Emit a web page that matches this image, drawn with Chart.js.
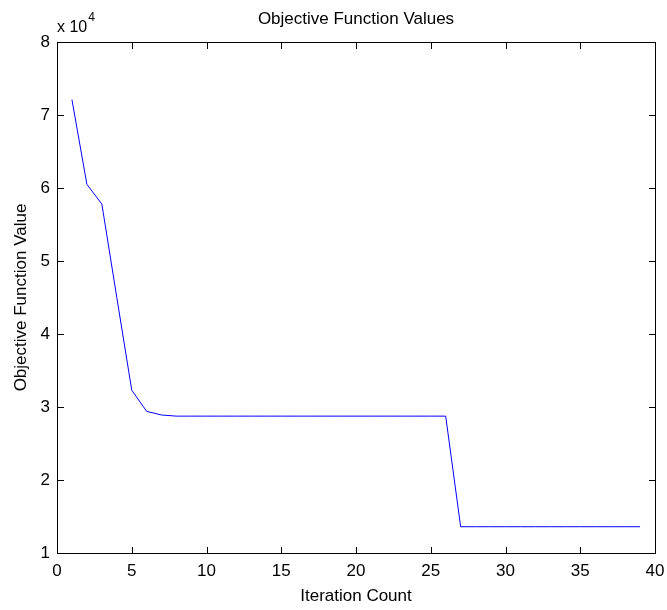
<!DOCTYPE html>
<html><head><meta charset="utf-8">
<script src="https://cdn.jsdelivr.net/npm/chart.js@4"></script>
<style>html,body{margin:0;padding:0;background:#fff}#wrap{width:667px;height:610px;position:relative}</style>
</head><body><div id="wrap"><canvas id="c" width="667" height="610"></canvas></div>
<script>
const iterations = [1,2,3,4,5,6,7,8,9,10,11,12,13,14,15,16,17,18,19,20,21,22,23,24,25,26,27,28,29,30,31,32,33,34,35,36,37,38,39];
const objectiveValues = [72100,60500,57800,45000,32300,29400,28900,28750,28750,28750,28750,28750,28750,28750,28750,28750,28750,28750,28750,28750,28750,28750,28750,28750,28750,28750,13600,13600,13600,13600,13600,13600,13600,13600,13600,13600,13600,13600,13600];
const xTicks = [0,5,10,15,20,25,30,35,40];
const yTicks = [1,2,3,4,5,6,7,8];
const FONT = "'Liberation Sans', Arial, sans-serif";
const FS = 17;

const boxTicks = {
  id:'boxTicks',
  afterDraw(chart){
    const ctx = chart.ctx, a = chart.chartArea, xs = chart.scales.x, ys = chart.scales.y;
    const L = Math.round(a.left), R = Math.round(a.right), T = Math.round(a.top), B = Math.round(a.bottom);
    ctx.save();
    ctx.fillStyle = '#000';
    ctx.fillRect(L, T, R-L+1, 1);
    ctx.fillRect(L, B, R-L+1, 1);
    ctx.fillRect(L, T, 1, B-T+1);
    ctx.fillRect(R, T, 1, B-T+1);
    const TL = 6;
    xs.ticks.forEach(t=>{
      const px = Math.round(xs.getPixelForValue(t.value));
      ctx.fillRect(px, B-TL, 1, TL);
      ctx.fillRect(px, T+1, 1, TL);
    });
    ys.ticks.forEach(t=>{
      const py = Math.round(ys.getPixelForValue(t.value));
      ctx.fillRect(L+1, py, TL, 1);
      ctx.fillRect(R-TL, py, TL, 1);
    });
    ctx.font = '16px '+FONT;
    ctx.textBaseline='alphabetic'; ctx.textAlign='left';
    ctx.fillText('x 10', L, 32);
    const w = ctx.measureText('x 10').width;
    ctx.font = '12px '+FONT;
    ctx.fillText('4', L+w+1, 21);
    ctx.font = FS+'px '+FONT;
    ctx.textAlign='center';
    ctx.fillText('Objective Function Values', (a.left+a.right)/2, 24);
    ctx.restore();
  }
};

new Chart(document.getElementById('c'), {
  type:'line',
  data:{ datasets:[{
    data: iterations.map((x,i)=>({x, y: objectiveValues[i]})),
    borderColor:'#0000ff', borderWidth:1, pointRadius:0, tension:0, fill:false
  }]},
  options:{
    responsive:false, animation:false,
    layout:{padding:{left:0,right:12,top:42,bottom:0}},
    plugins:{legend:{display:false}, tooltip:{enabled:false}},
    scales:{
      x:{type:'linear', min:0, max:40,
        afterBuildTicks(s){ s.ticks = xTicks.map(v=>({value:v})); },
        afterFit(s){ s.height = 57; s.paddingLeft = 0; s.paddingRight = 0; },
        grid:{drawOnChartArea:false, drawTicks:false},
        border:{display:false},
        ticks:{color:'#000', font:{family:FONT, size:FS, lineHeight:1.2}, padding:8, maxRotation:0},
        title:{display:true, text:'Iteration Count', color:'#000', font:{family:FONT, size:FS, lineHeight:1.2}, padding:{top:0,bottom:3}}
      },
      y:{type:'linear', min:10000, max:80000,
        afterBuildTicks(s){ s.ticks = yTicks.map(v=>({value:v*10000})); },
        afterFit(s){ s.width = 57; s.paddingTop = 0; s.paddingBottom = 0; },
        grid:{drawOnChartArea:false, drawTicks:false},
        border:{display:false},
        ticks:{color:'#000', font:{family:FONT, size:FS, lineHeight:1.2}, padding:7, callback:v=>String(v/10000)},
        title:{display:true, text:'Objective Function Value', color:'#000', font:{family:FONT, size:FS, lineHeight:1.2}, padding:{top:11,bottom:0}}
      }
    }
  },
  plugins:[boxTicks]
});
</script></body></html>
